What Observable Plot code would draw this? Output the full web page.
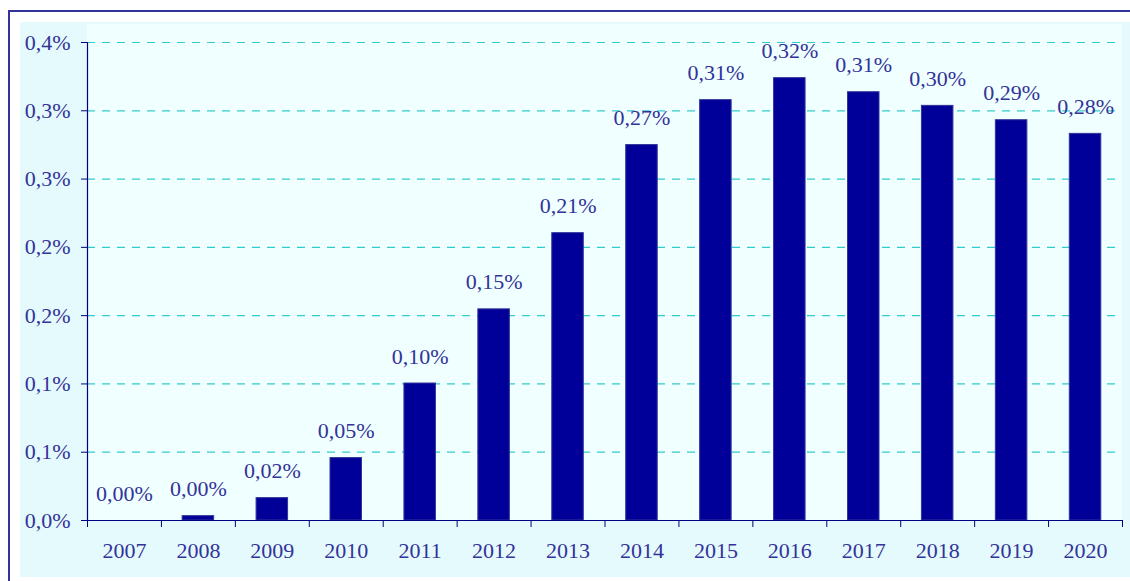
<!DOCTYPE html>
<html>
<head>
<meta charset="utf-8">
<script src="https://cdn.jsdelivr.net/npm/d3@7"></script>
<script src="https://cdn.jsdelivr.net/npm/@observablehq/plot@0.6"></script>
<style>
  html, body { margin: 0; padding: 0; background: #ffffff; overflow: hidden; }
  #wrap { position: relative; width: 1130px; height: 581px; overflow: hidden; }
  #border { position: absolute; left: 8px; top: 10px; width: 1200px; height: 700px;
            border-left: 2px solid #333399; border-top: 2px solid #333399; }
  #chartArea { position: absolute; left: 20px; top: 22px; width: 1200px; height: 555px; background: #E5FAFD; }
  #plotArea { position: absolute; left: 87px; top: 24px; width: 1035px; height: 496px; background: #F0FFFF; }
  #chart { position: absolute; left: 0; top: 0; }
  #chart svg { background: transparent !important; }
</style>
</head>
<body>
<div id="wrap">
  <div id="border"></div>
  <div id="chartArea"></div>
  <div id="plotArea"></div>
  <div id="chart"></div>
</div>
<script>
// Data
const years  = [2007, 2008, 2009, 2010, 2011, 2012, 2013, 2014, 2015, 2016, 2017, 2018, 2019, 2020];
const values = [0.0, 0.0032, 0.0164, 0.0457, 0.1003, 0.1546, 0.2104, 0.2749, 0.3078, 0.3239, 0.3136, 0.3036, 0.2931, 0.2831];
const yTicks = [0, 0.05, 0.10, 0.15, 0.20, 0.25, 0.30, 0.35];
const yTickLabels = ["0,0%", "0,1%", "0,1%", "0,2%", "0,2%", "0,3%", "0,3%", "0,4%"];

const data = years.map((year, i) => ({year, value: values[i]}));
const boundaries = [years[0] - 0.5, ...years.map(y => y + 0.5)];
const halfBar = 0.213;

const textColor = "#333399";
const axisColor = "#000080";
const font = "'Liberation Serif', 'Times New Roman', serif";

const plot = Plot.plot({
  width: 1130,
  height: 581,
  marginLeft: 87,
  marginRight: 8,
  marginTop: 42,
  marginBottom: 61,
  style: {background: "transparent", fontFamily: font, fontSize: "22px", color: textColor},
  x: {type: "linear", domain: [years[0] - 0.5, years[years.length - 1] + 0.5]},
  y: {domain: [0, 0.35]},
  marks: [
    Plot.gridY(yTicks.slice(1), {stroke: "#33CCCC", strokeOpacity: 1, strokeWidth: 1.2, strokeDasharray: "8,7"}),
    Plot.rectY(data, {x1: d => d.year - halfBar, x2: d => d.year + halfBar, y1: 0, y2: "value",
                      fill: "#000099", stroke: "#333399", strokeWidth: 1}),
    Plot.text(data, {x: "year", y: "value", text: d => d.value.toFixed(2).replace(".", ",") + "%",
                     lineAnchor: "bottom", dy: -20, fill: textColor, fontSize: 22, fontFamily: font}),
    Plot.axisY({ticks: yTicks, tickFormat: (d, i) => yTickLabels[i], tickSize: 6, tickPadding: 11,
                stroke: axisColor, fill: textColor, fontSize: 22, fontFamily: font, label: null}),
    Plot.axisX({ticks: boundaries, tickSize: 7, tickFormat: () => "", stroke: axisColor, label: null}),
    Plot.axisX({ticks: years, tickSize: 0, tickPadding: 22, tickFormat: d => String(d),
                fill: textColor, fontSize: 22, fontFamily: font, label: null}),
    Plot.ruleX([years[0] - 0.5], {stroke: axisColor, strokeWidth: 1.2}),
    Plot.ruleY([0], {stroke: axisColor, strokeWidth: 1.2})
  ]
});
document.getElementById("chart").appendChild(plot);
</script>
</body>
</html>
